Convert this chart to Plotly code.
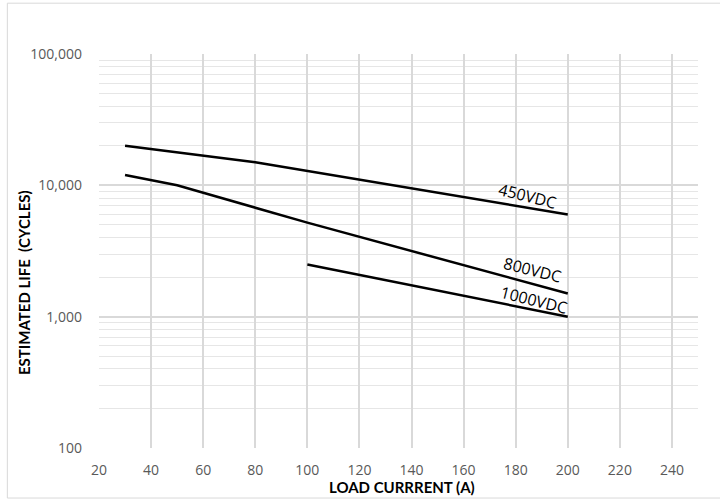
import plotly.graph_objects as go

# ---- data ----
x_450 = [30, 80, 200]
y_450 = [20000, 15000, 6000]

x_800 = [30, 50, 100, 200]
y_800 = [12000, 10000, 5200, 1500]

x_1000 = [100, 200]
y_1000 = [2500, 1000]

series_names = ["450VDC", "800VDC", "1000VDC"]

x_tick_vals = [20, 40, 60, 80, 100, 120, 140, 160, 180, 200, 220, 240]
y_tick_vals = [100, 1000, 10000, 100000]
y_tick_text = ["100", "1,000", "10,000", "100,000"]

x_title = "LOAD CURRRENT (A)"
y_title = "ESTIMATED LIFE \u00a0(CYCLES)"

# ---- figure ----
fig = go.Figure()
for xs, ys, name in [(x_450, y_450, series_names[0]),
                     (x_800, y_800, series_names[1]),
                     (x_1000, y_1000, series_names[2])]:
    fig.add_trace(go.Scatter(x=xs, y=ys, mode="lines", name=name,
                             line=dict(color="black", width=2.5),
                             showlegend=False, hoverinfo="skip"))

tick_font = dict(family="Open Sans, sans-serif", size=14, color="#595959")
grid_major = "#d9d9d9"
grid_minor = "#e6e6e6"

fig.update_xaxes(range=[20, 250], tickvals=x_tick_vals, showgrid=True,
                 gridcolor=grid_major, gridwidth=1.5, zeroline=False,
                 showline=False, ticks="", tickfont=tick_font,
                 ticklabelstandoff=12, automargin=False)
fig.update_yaxes(type="log", range=[2, 5], tickvals=y_tick_vals,
                 ticktext=y_tick_text, showgrid=True, gridcolor=grid_major,
                 gridwidth=1.5, zeroline=False, showline=False, ticks="",
                 tickfont=tick_font, ticklabelstandoff=16, automargin=False,
                 minor=dict(dtick="D1", showgrid=True, gridcolor=grid_minor,
                            gridwidth=1, ticks=""))

label_font = dict(family="Open Sans, sans-serif", size=16, color="black")
label_pos = [(184.6, 3.916), (186.6, 3.353), (187.0, 3.125)]
for name, (lx, ly) in zip(series_names, label_pos):
    fig.add_annotation(x=lx, y=ly, xref="x", yref="y", text=name,
                       showarrow=False, textangle=14, font=label_font)

title_font = dict(family="Lato, sans-serif", size=15, color="black")
fig.add_annotation(x=0.506, y=-0.10, xref="paper", yref="paper",
                   text="<b>%s</b>" % x_title, showarrow=False,
                   font=title_font, xanchor="center", yanchor="middle")
fig.add_annotation(x=-0.126, y=0.42, xref="paper", yref="paper",
                   text="<b>%s</b>" % y_title, showarrow=False,
                   textangle=-90, font=title_font, xanchor="center",
                   yanchor="middle")

# chart-area frame
fig.add_shape(type="rect", xref="paper", yref="paper",
              x0=-0.153, x1=1.06, y0=-0.127, y1=1.129,
              line=dict(color="#d9d9d9", width=1), layer="below")

fig.update_layout(width=720, height=502,
                  margin=dict(l=99, r=22, t=54, b=54, autoexpand=False),
                  paper_bgcolor="white", plot_bgcolor="white")

fig.write_html("out.html", config={"displayModeBar": False},
               post_script="document.body.style.margin='0';")
